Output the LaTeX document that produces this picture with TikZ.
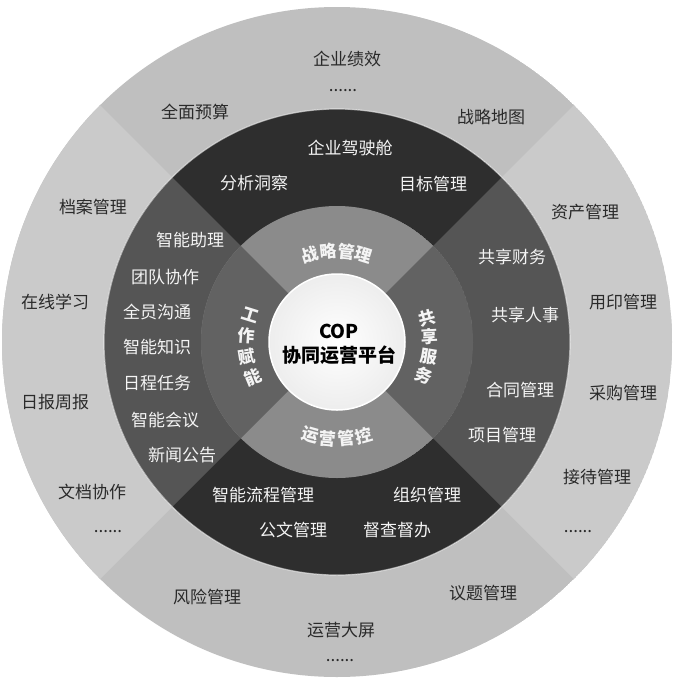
\documentclass[tikz,border=0pt]{standalone}
\usepackage{fontspec}
\setmainfont{Noto Sans CJK SC}
\definecolor{outerA}{HTML}{CACACA}
\definecolor{outerB}{HTML}{BFBFBF}
\definecolor{midA}{HTML}{555555}
\definecolor{midB}{HTML}{2E2E2E}
\definecolor{innA}{HTML}{626262}
\definecolor{innB}{HTML}{8B8B8B}
\definecolor{txtdark}{HTML}{2A2A2A}
\definecolor{txtlight}{HTML}{F4F4F4}
\begin{document}
\begin{tikzpicture}[x=1pt,y=1pt,
  outertxt/.style={text=txtdark,font=\fontsize{17}{17}\selectfont,inner sep=0pt},
  midtxt/.style={text=txtlight,font=\fontsize{17}{17}\selectfont,inner sep=0pt},
  inntxt/.style={text=txtlight,font=\fontsize{17}{17}\selectfont\bfseries,inner sep=0pt},
  ctrtxt/.style={text=black,font=\fontsize{19}{19}\selectfont\bfseries,inner sep=0pt}]
\useasboundingbox (0,0) rectangle (675,-681);
\fill[white] (0,0) rectangle (675,-681);
\begin{scope}[shift={(337,-342)}]
  % outer ring
  \begin{scope}
    \clip (0,0) circle (335);
    \fill[outerB] (0,0) circle (335);
    \fill[outerA] (0,0) -- (135:500) -- (225:500) -- cycle;
    \fill[outerA] (0,0) -- (-45:500) -- (45:500) -- cycle;
  \end{scope}
  % middle ring
  \begin{scope}
    \clip (0,0) circle (233);
    \fill[midB] (0,0) circle (233);
    \fill[midA] (0,0) -- (135:500) -- (225:500) -- cycle;
    \fill[midA] (0,0) -- (-45:500) -- (45:500) -- cycle;
  \end{scope}
  \draw[white,opacity=0.55,line width=1.2] (0,0) circle (233);
  % inner ring
  \begin{scope}
    \clip (0,0) circle (136);
    \fill[innB] (0,0) circle (136);
    \fill[innA] (0,0) -- (135:500) -- (225:500) -- cycle;
    \fill[innA] (0,0) -- (-45:500) -- (45:500) -- cycle;
  \end{scope}
  % centre
  \shade[inner color=white,outer color=gray!14] (0,0) circle (68);
  \draw[white,line width=1.5] (0,0) circle (68);
  % inner ring curved labels
  \foreach \c/\a [count=\i] in {战/107.25,略/95.75,管/84.25,理/72.75}
    \node[inntxt,rotate=\a-90] (ti\i) at (\a:91) {\c};
  \foreach \c/\a [count=\i] in {运/254.1,营/264.7,管/275.3,控/285.9}
    \node[inntxt,rotate=\a-270] (bi\i) at (\a:97) {\c};
  \foreach \c/\a [count=\i] in {工/162.7,作/176,赋/189.3,能/202.6}
    \node[inntxt,rotate=\a-180] (li\i) at (\a:91) {\c};
  \foreach \c/\a [count=\i] in {共/14.9,享/3.1,服/-9.2,务/-21.2}
    \node[inntxt,rotate=\a] (ri\i) at (\a:93) {\c};
\end{scope}
% centre text
\node[ctrtxt] (cop) at (339,-331) {COP};
\node[ctrtxt] (plat) at (339,-355) {协同运营平台};
% outer ring labels
\node[outertxt] (o1) at (347,-59) {企业绩效};
\node[outertxt] (o2) at (343,-91) {......};
\node[outertxt] (o3) at (195,-112) {全面预算};
\node[outertxt] (o4) at (491,-117) {战略地图};
\node[outertxt] (o5) at (93,-207) {档案管理};
\node[outertxt] (o6) at (585,-212) {资产管理};
\node[outertxt] (o7) at (55,-302) {在线学习};
\node[outertxt] (o8) at (623,-302) {用印管理};
\node[outertxt] (o9) at (55,-402) {日报周报};
\node[outertxt] (o10) at (623,-393) {采购管理};
\node[outertxt] (o11) at (92,-492) {文档协作};
\node[outertxt] (o12) at (597,-477) {接待管理};
\node[outertxt] (o13) at (108,-532) {......};
\node[outertxt] (o14) at (578,-532) {......};
\node[outertxt] (o15) at (207,-597) {风险管理};
\node[outertxt] (o16) at (483,-593) {议题管理};
\node[outertxt] (o17) at (341,-630) {运营大屏};
\node[outertxt] (o18) at (340,-661) {......};
% middle ring labels
\node[midtxt] (m1) at (350,-148) {企业驾驶舱};
\node[midtxt] (m2) at (254,-183) {分析洞察};
\node[midtxt] (m3) at (433,-184) {目标管理};
\node[midtxt] (m4) at (190,-240) {智能助理};
\node[midtxt] (m5) at (165,-277) {团队协作};
\node[midtxt] (m6) at (157,-312) {全员沟通};
\node[midtxt] (m7) at (157,-347) {智能知识};
\node[midtxt] (m8) at (157,-383) {日程任务};
\node[midtxt] (m9) at (165,-420) {智能会议};
\node[midtxt] (m10) at (182,-455) {新闻公告};
\node[midtxt] (m11) at (512,-257) {共享财务};
\node[midtxt] (m12) at (525,-315) {共享人事};
\node[midtxt] (m13) at (520,-390) {合同管理};
\node[midtxt] (m14) at (502,-435) {项目管理};
\node[midtxt] (m15) at (263,-495) {智能流程管理};
\node[midtxt] (m16) at (427,-495) {组织管理};
\node[midtxt] (m17) at (293,-530) {公文管理};
\node[midtxt] (m18) at (397,-530) {督查督办};
\end{tikzpicture}
\end{document}
